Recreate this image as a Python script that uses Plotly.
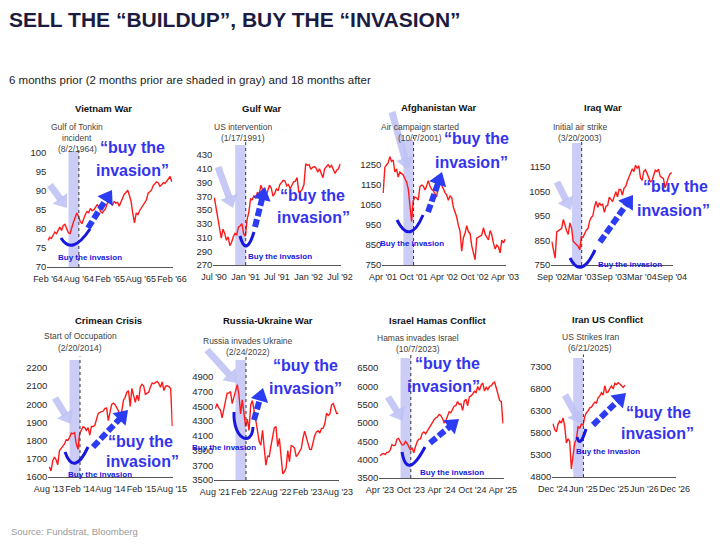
import math
import pandas as pd
import plotly.graph_objects as go

W, H = 720, 546
OFFX, OFFY = 8, 8   # page body margin in the viewer

# ---------------- data ----------------
panel_titles = ["Vietnam War", "Gulf War", "Afghanistan War", "Iraq War",
                "Crimean Crisis", "Russia-Ukraine War", "Israel Hamas Conflict", "Iran US Conflict"]
event_dates = ["1964-08-02", "1991-01-17", "2001-10-07", "2003-03-20",
               "2014-02-20", "2022-02-24", "2023-10-07", "2025-06-21"]
event_labels = [["Gulf of Tonkin", "incident", "(8/2/1964)"],
                ["US intervention", "(1/17/1991)"],
                ["Air campaign started", "(10/7/2001)"],
                ["Initial air strike", "(3/20/2003)"],
                ["Start of Occupation", "(2/20/2014)"],
                ["Russia invades Ukraine", "(2/24/2022)"],
                ["Hamas invades Israel", "(10/7/2023)"],
                ["US Strikes Iran", "(6/21/2025)"]]
x_tick_labels = [["Feb '64", "Aug '64", "Feb '65", "Aug '65", "Feb '66"],
                 ["Jul '90", "Jan '91", "Jul '91", "Jan '92", "Jul '92"],
                 ["Apr '01", "Oct '01", "Apr '02", "Oct '02", "Apr '03"],
                 ["Sep '02", "Mar '03", "Sep '03", "Mar '04", "Sep '04"],
                 ["Aug '13", "Feb '14", "Aug '14", "Feb '15", "Aug '15"],
                 ["Aug '21", "Feb '22", "Aug '22", "Feb '23", "Aug '23"],
                 ["Apr '23", "Oct '23", "Apr '24", "Oct '24", "Apr '25"],
                 ["Dec '24", "Jun '25", "Dec '25", "Jun '26", "Dec '26"]]
y_tick_low = [70, 270, 750, 750, 1600, 3500, 3500, 4800]
y_tick_high = [100, 430, 1250, 1150, 2200, 4900, 6500, 7300]
y_tick_step = [5, 20, 100, 100, 100, 200, 500, 500]
sample_step_days = 10   # one reading every 10 days, starting 6 months before the event

vietnam_values = [77.0, 77.8, 77.5, 78.6, 79.2, 78.8, 79.8, 80.5, 79.6, 80.9,
                  81.2, 80.3, 79.0, 78.8, 80.6, 81.8, 83.0, 84.2, 83.2, 82.0,
                  81.4, 82.8, 83.8, 84.6, 84.3, 85.4, 84.8, 85.0, 85.9, 86.4,
                  85.8, 84.6, 84.2, 84.9, 85.4, 86.8, 87.4, 87.0, 86.2, 87.2,
                  86.8, 87.0, 86.0, 87.1, 88.4, 89.2, 89.6, 90.2, 88.8, 87.2,
                  84.0, 81.6, 84.2, 83.8, 84.8, 85.6, 86.2, 86.8, 87.6, 89.4,
                  89.8, 90.2, 91.4, 91.9, 92.4, 92.1, 91.2, 91.6, 92.2, 92.0,
                  92.6, 93.4, 93.8, 92.4]
gulf_values = [368, 352, 335, 318, 309, 322, 316, 306, 311, 298,
               303, 311, 316, 314, 325, 327, 330, 315, 312, 336,
               347, 366, 365, 371, 367, 376, 372, 386, 379, 381,
               371, 378, 386, 382, 370, 374, 381, 378, 387, 390,
               393, 392, 385, 387, 381, 386, 391, 392, 397, 376,
               377, 380, 387, 417, 415, 416, 409, 412, 413, 411,
               405, 410, 404, 397, 410, 414, 416, 412, 415, 409,
               403, 408, 410, 417]
afghanistan_values = [1110, 1238, 1250, 1262, 1292, 1268, 1275, 1215, 1230, 1190,
                      1215, 1205, 1200, 1181, 1165, 1131, 1060, 968, 1070, 1090,
                      1085, 1075, 1142, 1150, 1145, 1125, 1145, 1172, 1145, 1128,
                      1122, 1108, 1090, 1150, 1165, 1150, 1126, 1112, 1100, 1074,
                      1095, 1087, 1040, 1015, 990, 948, 920, 819, 885, 910,
                      947, 916, 908, 846, 815, 776, 884, 890, 895, 900,
                      936, 904, 890, 875, 922, 901, 858, 830, 850, 840,
                      810, 875, 860, 880]
iraq_values = [845, 815, 778, 885, 890, 895, 900, 936, 906, 890,
               875, 922, 901, 847, 840, 834, 827, 812, 866, 863,
               878, 893, 898, 929, 944, 951, 987, 1010, 985, 1004,
               994, 998, 965, 990, 993, 1027, 1018, 1009, 1029, 1049,
               1028, 1059, 1058, 1035, 1064, 1071, 1092, 1108, 1127, 1143,
               1131, 1157, 1145, 1155, 1106, 1095, 1132, 1139, 1124, 1107,
               1090, 1093, 1121, 1137, 1132, 1141, 1112, 1108, 1102, 1065,
               1092, 1107, 1122, 1128]
crimea_values = [1656, 1633, 1689, 1710, 1695, 1668, 1745, 1757, 1770, 1782,
                 1806, 1802, 1818, 1841, 1838, 1844, 1782, 1752, 1840, 1859,
                 1877, 1872, 1857, 1872, 1830, 1878, 1878, 1885, 1920, 1950,
                 1956, 1960, 1963, 1978, 1979, 1910, 1955, 2000, 2007, 1998,
                 1982, 1964, 1905, 1960, 2023, 2039, 2067, 2075, 1989, 2088,
                 2050, 2011, 2051, 2020, 2096, 2110, 2101, 2053, 2062, 2067,
                 2096, 2117, 2114, 2121, 2126, 2114, 2094, 2124, 2076, 2100,
                 2102, 2098, 2086, 1880]
russia_values = [4470, 4535, 4480, 4455, 4345, 4471, 4566, 4680, 4682, 4701,
                 4538, 4634, 4725, 4796, 4659, 4398, 4589, 4418, 4225, 4329,
                 4173, 4520, 4580, 4446, 4271, 4175, 4023, 3973, 4176, 3900,
                 3700, 3825, 3818, 3961, 4118, 4207, 4228, 3955, 4067, 3855,
                 3585, 3612, 3665, 3901, 3748, 3965, 3957, 3934, 3817, 3849,
                 3895, 3928, 4070, 4164, 4079, 3982, 3918, 3916, 4027, 4105,
                 4154, 4169, 4138, 4198, 4205, 4267, 4410, 4378, 4399, 4522,
                 4537, 4478, 4404, 4406]
israel_values = [4105, 4154, 4169, 4138, 4198, 4205, 4267, 4410, 4378, 4399,
                 4560, 4580, 4478, 4404, 4406, 4497, 4450, 4337, 4258, 4327,
                 4186, 4358, 4495, 4559, 4569, 4719, 4754, 4705, 4783, 4864,
                 4958, 5021, 5087, 5137, 5165, 5234, 5205, 5123, 5010, 5064,
                 5222, 5307, 5277, 5375, 5464, 5475, 5584, 5505, 5522, 5344,
                 5597, 5648, 5471, 5713, 5738, 5792, 5864, 5832, 5995, 5893,
                 6032, 6090, 5872, 5970, 5909, 5997, 6012, 6083, 6114, 5956,
                 5770, 5615, 5580, 4990]
iran_values = [6010, 5882, 5827, 5997, 6071, 6026, 6144, 5955, 5572, 5668,
               5612, 4985, 5290, 5569, 5660, 5940, 5912, 6005, 5980, 6173,
               6263, 6297, 6371, 6389, 6449, 6502, 6481, 6600, 6643, 6714,
               6664, 6875, 6720, 6734, 6812, 6870, 6800, 6929, 6902, 6944,
               6915, 6882, 6836, 6890]

series_values = [vietnam_values, gulf_values, afghanistan_values, iraq_values,
                 crimea_values, russia_values, israel_values, iran_values]

# ---------------- layout geometry (target pixels) ----------------
geo = [
    dict(x0=48, x1=172, top=151, bot=267, ytop=100.5),
    dict(x0=214, x1=340, top=145, bot=265, ytop=444.5),
    dict(x0=383, x1=505, top=140, bot=265, ytop=1375),
    dict(x0=552, x1=672, top=143, bot=265, ytop=1248),
    dict(x0=49, x1=172, top=360, bot=477, ytop=2244),
    dict(x0=215, x1=338, top=360, bot=480, ytop=5131),
    dict(x0=380, x1=503, top=358, bot=478, ytop=6773),
    dict(x0=553, x1=675, top=358, bot=477, ytop=7505),
]
title_pos = [(103, 108), (262, 108), (438, 107), (603, 107),
             (108, 320), (268, 320), (437, 320), (608, 319)]
event_text_x = [77, 243, 420, 580, 80, 248, 418, 590]
event_text_y = [[127, 138, 149], [127, 138], [127, 138], [127, 138],
                [336, 348], [341, 352], [338, 349], [337, 348]]
big_pos = [((132, 147), (132, 170)), ((312, 195), (313, 218)), ((476, 138), (471, 162)),
           ((675, 187), (673, 210)), ((140, 441), (142, 461)), ((305, 365), (305, 388)),
           ((447, 363), (443, 386)), ((658, 412), (657, 433))]
small_pos = [(90, 258), (280, 257), (412, 243), (630, 264),
             (100, 474), (224, 447), (452, 472), (608, 451)]
lav_arrows = [((50, 185), (67, 208)), ((218, 167), (233, 208)), ((392, 112), (408, 170)),
              ((557, 182), (571, 210)), ((55, 398), (71, 424)), ((207, 350), (237, 383)),
              ((388, 397), (403, 421)), ((565, 395), (581, 424))]
blue_arrows = [((88, 228), (112, 190)), ((255, 227), (265, 187)), ((428, 212), (442, 172)),
               ((600, 242), (633, 195)), ((93, 447), (128, 410)), ((254, 420), (263, 388)),
               ((430, 443), (459, 419)), ((593, 425), (626, 393))]
curves = [("Q", (61, 238), (72, 256), (90, 229)),
          ("Q", (240, 236), (246, 258), (254, 232)),
          ("Q", (397, 220), (410, 246), (423, 215)),
          ("Q", (570, 258), (581, 280), (595, 250)),
          ("Q", (65, 452), (74, 477), (88, 447)),
          ("C", (234, 412), (233, 440), (252, 447), (253, 427)),
          ("Q", (402, 452), (407, 481), (425, 447)),
          ("Q", (577, 437), (580, 449), (586, 429))]

SANS = "Liberation Sans, Arial, sans-serif"
RED = "#ff1a1a"
BLUE_TXT = "#3434ee"
BLUE_ARROW = "#2c3cf2"
BLUE_CURVE = "#1717e0"
LAVENDER = "rgba(188,192,243,0.85)"
SHADE = "rgba(198,200,245,0.9)"


def P(x, y):
    return (x - OFFX) / W, 1 - (y - OFFY) / H


fig = go.Figure()


def txt(x, y, text, size, color, family=SANS, bold=False, xanchor="center"):
    px_, py_ = P(x, y)
    fig.add_annotation(x=px_, y=py_, xref="paper", yref="paper",
                       text=f"<b>{text}</b>" if bold else text, showarrow=False,
                       font=dict(size=size, color=color, family=family),
                       xanchor=xanchor, yanchor="middle", borderpad=0)


def arrow(tail, tip, color, width, head_w, head_len, dash="solid"):
    (x0, y0), (x1, y1) = tail, tip
    dx, dy = x1 - x0, y1 - y0
    L = math.hypot(dx, dy)
    ux, uy = dx / L, dy / L
    bx, by = x1 - ux * head_len, y1 - uy * head_len
    nx, ny = -uy, ux
    a0, b0 = P(x0, y0)
    a1, b1 = P(bx + ux, by + uy)
    fig.add_shape(type="line", xref="paper", yref="paper", x0=a0, y0=b0, x1=a1, y1=b1,
                  line=dict(color=color, width=width, dash=dash))
    pts = [(x1, y1), (bx + nx * head_w / 2, by + ny * head_w / 2),
           (bx - nx * head_w / 2, by - ny * head_w / 2)]
    path = "M " + " L ".join("%.5f,%.5f" % P(*p) for p in pts) + " Z"
    fig.add_shape(type="path", xref="paper", yref="paper", path=path,
                  fillcolor=color, line=dict(width=0))


for k in range(8):
    n = k + 1
    xs = "" if n == 1 else str(n)
    g = geo[k]
    E = pd.Timestamp(event_dates[k])
    start = E - pd.DateOffset(months=6)
    end = E + pd.DateOffset(months=18)
    span = (end - start).days
    pad_d = 4
    ppd = (g["x1"] - g["x0"]) / span
    dom_x = [(g["x0"] - OFFX - pad_d * ppd) / W, (g["x1"] - OFFX + pad_d * ppd) / W]
    dom_y = [1 - (g["bot"] - OFFY) / H, 1 - (g["top"] - OFFY) / H]
    vals = series_values[k]
    dates = pd.date_range(E - pd.Timedelta(days=182), periods=len(vals),
                          freq=f"{sample_step_days}D")

    fig.add_trace(go.Scatter(x=dates, y=vals, mode="lines",
                             line=dict(color=RED, width=1.4),
                             xaxis="x" + xs, yaxis="y" + xs, showlegend=False,
                             hoverinfo="skip"))

    tickvals = [E + pd.DateOffset(months=6 * j) for j in range(-1, 4)]
    fig.layout["xaxis" + xs] = dict(
        domain=dom_x, anchor="y" + xs, type="date", automargin=False,
        range=[start - pd.Timedelta(days=pad_d), end + pd.Timedelta(days=pad_d)],
        tickvals=tickvals, ticktext=x_tick_labels[k], tickangle=0,
        ticks="outside", ticklen=3, tickcolor="rgba(0,0,0,0)",
        showline=True, linecolor="#555555", linewidth=1.2,
        showgrid=False, zeroline=False, fixedrange=True,
        tickfont=dict(family=SANS, size=9, color="#2a2a2a"))
    yt = list(range(y_tick_low[k], y_tick_high[k] + 1, y_tick_step[k]))
    fig.layout["yaxis" + xs] = dict(
        domain=dom_y, anchor="x" + xs, range=[y_tick_low[k], g["ytop"]],
        tickvals=yt, ticktext=[str(v) for v in yt], automargin=False,
        showline=False, showgrid=False, zeroline=False, ticks="",
        fixedrange=True,
        tickfont=dict(family=SANS, size=9.5, color="#2a2a2a"))

    # two months prior shaded
    fig.add_shape(type="rect", xref="x" + xs, yref="y" + xs + " domain",
                  x0=E - pd.DateOffset(months=2), x1=E, y0=0, y1=1,
                  fillcolor=SHADE, line=dict(width=0), layer="below")
    # event line
    fig.add_shape(type="line", xref="x" + xs, yref="y" + xs + " domain",
                  x0=E, x1=E, y0=0, y1=1.03,
                  line=dict(color="#333333", width=1, dash="dot"))

    # titles / event labels
    txt(*title_pos[k], panel_titles[k], 9.5, "#111111", bold=True)
    for line, yy in zip(event_labels[k], event_text_y[k]):
        txt(event_text_x[k], yy, line, 8.5, "#444444")

    # decorations
    arrow(*lav_arrows[k], LAVENDER, 7, 18, 12)
    c = curves[k]
    if c[0] == "Q":
        path = "M %.5f,%.5f Q %.5f,%.5f %.5f,%.5f" % (*P(*c[1]), *P(*c[2]), *P(*c[3]))
    else:
        path = "M %.5f,%.5f C %.5f,%.5f %.5f,%.5f %.5f,%.5f" % (*P(*c[1]), *P(*c[2]),
                                                              *P(*c[3]), *P(*c[4]))
    fig.add_shape(type="path", xref="paper", yref="paper", path=path,
                  line=dict(color=BLUE_CURVE, width=3))
    arrow(*blue_arrows[k], BLUE_ARROW, 6, 18, 13, dash="8px,3px")
    txt(*big_pos[k][0], "“buy the", 16, BLUE_TXT, bold=True)
    txt(*big_pos[k][1], "invasion”", 16, BLUE_TXT, bold=True)
    txt(*small_pos[k], "Buy the invasion", 8, BLUE_CURVE, bold=True)

# header / footer
txt(8, 19, "SELL THE “BUILDUP”, BUY THE “INVASION”", 21, "#1c1c40",
    bold=True, xanchor="left")
txt(8, 80, "6 months prior (2 months prior are shaded in gray) and 18 months after",
    11.5, "#222222", xanchor="left")
txt(10, 531, "Source: Fundstrat, Bloomberg", 9.5, "#9a9a9a", xanchor="left")

fig.update_layout(width=W, height=H, autosize=False, template="none",
                  margin=dict(l=0, r=0, t=0, b=0, pad=0),
                  paper_bgcolor="white", plot_bgcolor="white",
                  showlegend=False)

fig.write_html("out.html")
